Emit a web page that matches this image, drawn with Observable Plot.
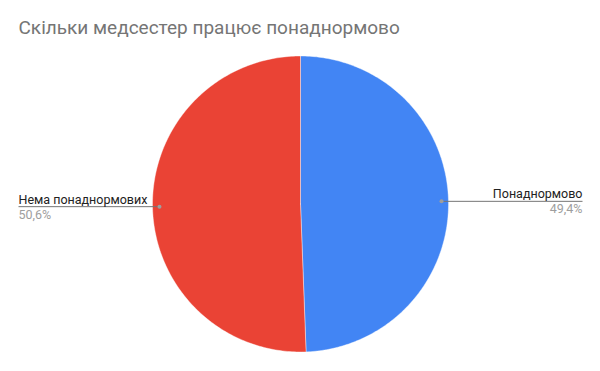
<!DOCTYPE html>
<html><head><meta charset="utf-8">
<script src="https://cdn.jsdelivr.net/npm/d3@7"></script>
<script src="https://cdn.jsdelivr.net/npm/@observablehq/plot@0.6"></script>
<style>
body{margin:0;background:#fff;}
#chart svg{display:block;}
</style>
</head><body>
<div id="chart"></div>
<script>
const title = "Скільки медсестер працює понаднормово";
const labels = ["Понаднормово", "Нема понаднормових"];
const values = [49.4, 50.6];
const percentLabels = ["49,4%", "50,6%"];
const colors = ["#4285F4", "#EA4335"];

const W = 600, H = 371, R = 148, CX = 300, CY = 203.5;
const total = d3.sum(values);
let acc = 0;
const slices = labels.map((l, i) => {
  const a0 = acc / total * 2 * Math.PI;
  acc += values[i];
  const a1 = acc / total * 2 * Math.PI;
  return {label: l, value: values[i], pct: percentLabels[i], a0, a1, mid: (a0 + a1) / 2, side: Math.sin((a0 + a1) / 2) >= 0 ? 1 : -1};
});
const poly = [];
for (const s of slices) {
  poly.push({label: s.label, x: 0, y: 0});
  const n = 200;
  for (let k = 0; k <= n; k++) {
    const a = s.a0 + (s.a1 - s.a0) * k / n;
    poly.push({label: s.label, x: Math.sin(a), y: Math.cos(a)});
  }
  poly.push({label: s.label, x: 0, y: 0});
}
const dotR = 0.953;
const edge = 282 / R;
const leaders = slices.map(s => ({...s, x1: Math.sin(s.mid) * dotR, y1: Math.cos(s.mid) * dotR, x2: s.side * edge}));
const right = leaders.filter(d => d.side > 0);
const left = leaders.filter(d => d.side < 0);
const fs = 12.5;

const plot = Plot.plot({
  width: W, height: H,
  margin: 0,
  x: {domain: [-CX / R, (W - CX) / R], range: [0, W], axis: null},
  y: {domain: [-(H - CY) / R, CY / R], range: [H, 0], axis: null},
  color: {domain: labels, range: colors},
  style: {fontFamily: "Roboto, sans-serif"},
  marks: [
    Plot.line(poly, {x: "x", y: "y", z: "label", fill: "label", stroke: "#fff", strokeWidth: 0.4, curve: "linear"}),
    Plot.link(leaders, {x1: "x1", y1: "y1", x2: "x2", y2: "y1", stroke: "#757575", strokeWidth: 1}),
    Plot.dot(leaders, {x: "x1", y: "y1", r: 2, fill: "#9e9e9e", stroke: "none"}),
    Plot.text(right, {x: "x2", y: "y1", text: "label", textAnchor: "end", lineAnchor: "bottom", dy: -3, fill: "#222", fontSize: fs}),
    Plot.text(right, {x: "x2", y: "y1", text: "pct", textAnchor: "end", lineAnchor: "top", dy: 3, fill: "#9e9e9e", fontSize: fs}),
    Plot.text(left, {x: "x2", y: "y1", text: "label", textAnchor: "start", lineAnchor: "bottom", dy: -3, fill: "#222", fontSize: fs}),
    Plot.text(left, {x: "x2", y: "y1", text: "pct", textAnchor: "start", lineAnchor: "top", dy: 3, fill: "#9e9e9e", fontSize: fs}),
    Plot.text([title], {frameAnchor: "top-left", text: d => d, dx: 18, dy: 20, lineAnchor: "top", fill: "#757575", fontSize: 19})
  ]
});
document.getElementById("chart").append(plot);
</script>
</body></html>
